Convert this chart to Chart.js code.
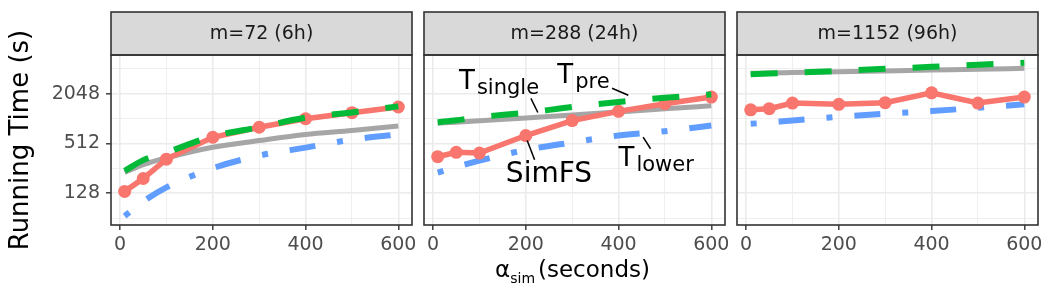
<!DOCTYPE html>
<html>
<head>
<meta charset="utf-8">
<script src="https://cdn.jsdelivr.net/npm/chart.js@4.4.1/dist/chart.umd.min.js"></script>
<style>
  body { margin: 0; background: #fff; }
  #wrap { position: relative; width: 1050px; height: 300px; overflow: hidden; }
  #wrap canvas { position: absolute; top: 0; }
</style>
</head>
<body>
<div id="wrap">
  <canvas id="p0"></canvas>
  <canvas id="p1"></canvas>
  <canvas id="p2"></canvas>
</div>
<script>
// --- data ---
const alphaSim = [10, 50, 100, 200, 300, 400, 500, 600];
const facetLabels = ["m=72 (6h)", "m=288 (24h)", "m=1152 (96h)"];
const xTicks = [0, 100, 200, 300, 400, 500, 600];
const xLabelTicks = [0, 200, 400, 600];
const yTicks = [64, 128, 256, 512, 1024, 2048, 4096];
const yLabelTicks = [128, 512, 2048];

const simfs72 = [135, 193, 331, 608, 803, 1017, 1204, 1410];
const pre72 = [239, 322, 399, 624, 803, 1049, 1213, 1435];
const single72 = [228, 284, 343, 461, 555, 656, 733, 831];
const lower72 = [68, 102, 151, 257, 365, 456, 570, 656];

const simfs288 = [354, 400, 392, 638, 967, 1250, 1547, 1859];
const pre288 = [923, 976, 1066, 1200, 1410, 1620, 1825, 2000];
const single288 = [900, 925, 960, 1040, 1130, 1230, 1340, 1460];
const lower288 = [228, 265, 317, 427, 526, 638, 720, 843];

const simfs1152 = [1305, 1346, 1575, 1520, 1590, 2090, 1575, 1859];
const pre1152 = [3517, 3570, 3650, 3850, 4080, 4310, 4560, 4830];
const single1152 = [3600, 3640, 3680, 3760, 3850, 3940, 4030, 4130];
const lower1152 = [883, 920, 967, 1074, 1170, 1260, 1380, 1518];

const panelSeries = [
  { simfs: simfs72, pre: pre72, single: single72, lower: lower72 },
  { simfs: simfs288, pre: pre288, single: single288, lower: lower288 },
  { simfs: simfs1152, pre: pre1152, single: single1152, lower: lower1152 }
];

// --- layout ---
const FONT = "DejaVu Sans";
const STRIP_H = 43;
const canvases = [
  { left: 0, width: 424, padL: 0, padR: 12 },
  { left: 416, width: 321, padL: 8, padR: 12 },
  { left: 729, width: 321, padL: 8, padR: 12 }
];

// labels placed inside the middle panel (data coords)
const notes288 = [
  { main: "T", sub: "single", x: 56, y: 2353 },
  { main: "T", sub: "pre", x: 268, y: 2768 },
  { main: "SimFS", sub: "", x: 157, y: 174, size: 28 },
  { main: "T", sub: "lower", x: 400, y: 277 }
];
const leaders288 = [
  [211, 1794, 226, 1210],
  [386, 2373, 421, 1953],
  [203, 557, 219, 325],
  [453, 610, 469, 442]
];

Chart.defaults.font.family = FONT;

const facetDecor = {
  id: "facetDecor",
  afterDraw(chart, args, opts) {
    const { ctx, chartArea: a } = chart;
    const w = a.right - a.left;
    ctx.save();
    // strip
    ctx.fillStyle = "#D9D9D9";
    ctx.fillRect(a.left, a.top - STRIP_H, w, STRIP_H);
    ctx.strokeStyle = "#333333";
    ctx.lineWidth = 1.6;
    ctx.strokeRect(a.left, a.top - STRIP_H, w, STRIP_H);
    // panel border
    ctx.strokeRect(a.left, a.top, w, a.bottom - a.top);
    ctx.fillStyle = "#1A1A1A";
    ctx.font = `19px "${FONT}"`;
    ctx.textAlign = "center";
    ctx.textBaseline = "middle";
    ctx.fillText(opts.label, (a.left + a.right) / 2, a.top - STRIP_H / 2 + 1);

    const xs = chart.scales.x, ys = chart.scales.y;
    ctx.textAlign = "left";
    ctx.textBaseline = "alphabetic";
    ctx.fillStyle = "#000";
    ctx.strokeStyle = "#000";
    ctx.lineWidth = 1.5;
    (opts.leaders || []).forEach(l => {
      ctx.beginPath();
      ctx.moveTo(xs.getPixelForValue(l[0]), ys.getPixelForValue(l[1]));
      ctx.lineTo(xs.getPixelForValue(l[2]), ys.getPixelForValue(l[3]));
      ctx.stroke();
    });
    (opts.notes || []).forEach(n => {
      const px = xs.getPixelForValue(n.x), py = ys.getPixelForValue(n.y);
      ctx.font = `${n.size || 26}px "${FONT}"`;
      ctx.fillText(n.main, px, py);
      if (n.sub) {
        const mw = ctx.measureText(n.main).width;
        ctx.font = `21px "${FONT}"`;
        ctx.fillText(n.sub, px + mw + 2, py + 5);
      }
    });

    // x axis title with subscript
    if (opts.xTitle) {
      const big = `23px "${FONT}"`, small = `14px "${FONT}"`;
      ctx.font = big;
      const wA = ctx.measureText("\u03b1").width;
      const wR = ctx.measureText("(seconds)").width;
      ctx.font = small;
      const wS = ctx.measureText("sim").width;
      const total = wA + wS + 3 + wR;
      let x0 = (a.left + a.right) / 2 - 2 - total / 2;
      const base = a.bottom + 52;
      ctx.font = big;
      ctx.fillText("\u03b1", x0, base);
      ctx.font = small;
      ctx.fillText("sim", x0 + wA, base + 6);
      ctx.font = big;
      ctx.fillText("(seconds)", x0 + wA + wS + 3, base);
    }
    ctx.restore();
  }
};

function gridOpts(majors) {
  const isMajor = c => c.tick && majors.includes(c.tick.value);
  return {
    color: "#EBEBEB",
    lineWidth: c => isMajor(c) ? 1.6 : 0.8,
    tickColor: c => isMajor(c) ? "#333333" : "rgba(0,0,0,0)",
    tickLength: 5,
    tickWidth: 1.4
  };
}

canvases.forEach((cv, i) => {
  const el = document.getElementById("p" + i);
  el.width = cv.width;
  el.height = 300;
  el.style.left = cv.left + "px";
  el.style.width = cv.width + "px";
  el.style.height = "300px";

  const s = panelSeries[i];
  const first = i === 0;

  new Chart(el, {
    type: "line",
    data: {
      labels: alphaSim,
      datasets: [
        { label: "T_pre", data: s.pre, borderColor: "#00BA38", borderWidth: 6, borderDash: [27, 27],
          pointRadius: 0, cubicInterpolationMode: "monotone", order: 0 },
        { label: "SimFS", data: s.simfs, borderColor: "#F8766D", backgroundColor: "#F8766D", borderWidth: 5.5,
          pointRadius: 6.5, pointBorderWidth: 0, pointBackgroundColor: "#F8766D", order: 1 },
        { label: "T_lower", data: s.lower, borderColor: "#619CFF", borderWidth: 6, borderDash: [6, 22, 26, 22],
          pointRadius: 0, cubicInterpolationMode: "monotone", order: 2 },
        { label: "T_single", data: s.single, borderColor: "#A6A6A6", borderWidth: 5,
          pointRadius: 0, cubicInterpolationMode: "monotone", order: 3 }
      ].map(d => Object.assign(d, { data: d.data.map((v, k) => ({ x: alphaSim[k], y: v })) }))
    },
    options: {
      responsive: false,
      animation: false,
      events: [],
      layout: { padding: { left: cv.padL, right: cv.padR, top: 55, bottom: 0 } },
      plugins: {
        legend: { display: false },
        tooltip: { enabled: false },
        facetDecor: {
          label: facetLabels[i],
          notes: i === 1 ? notes288 : [],
          leaders: i === 1 ? leaders288 : [],
          xTitle: i === 1
        }
      },
      scales: {
        x: {
          type: "linear",
          min: -19.5,
          max: 629.5,
          afterBuildTicks: sc => { sc.ticks = xTicks.map(v => ({ value: v })); },
          afterFit: sc => { sc.height = 75; },
          ticks: {
            autoSkip: false, maxRotation: 0, minRotation: 0,
            color: "#4D4D4D", font: { size: 19 }, padding: 4,
            callback: v => xLabelTicks.includes(v) ? String(v) : ""
          },
          grid: gridOpts(xLabelTicks),
          border: { display: false }
        },
        y: {
          type: "logarithmic",
          min: 53,
          max: 5990,
          afterBuildTicks: sc => { sc.ticks = yTicks.map(v => ({ value: v })); },
          afterFit: sc => { sc.width = first ? 111 : 0; },
          ticks: {
            display: first, autoSkip: false,
            color: "#4D4D4D", font: { size: 19 }, padding: 6,
            callback: v => yLabelTicks.includes(v) ? String(v) : ""
          },
          grid: Object.assign(gridOpts(yLabelTicks), { drawTicks: first }),
          border: { display: false },
          title: {
            display: first, text: "Running Time (s)", color: "#000",
            font: { size: 26 }, padding: { top: 6, bottom: 0 }
          }
        }
      }
    },
    plugins: [facetDecor]
  });
});
</script>
</body>
</html>
